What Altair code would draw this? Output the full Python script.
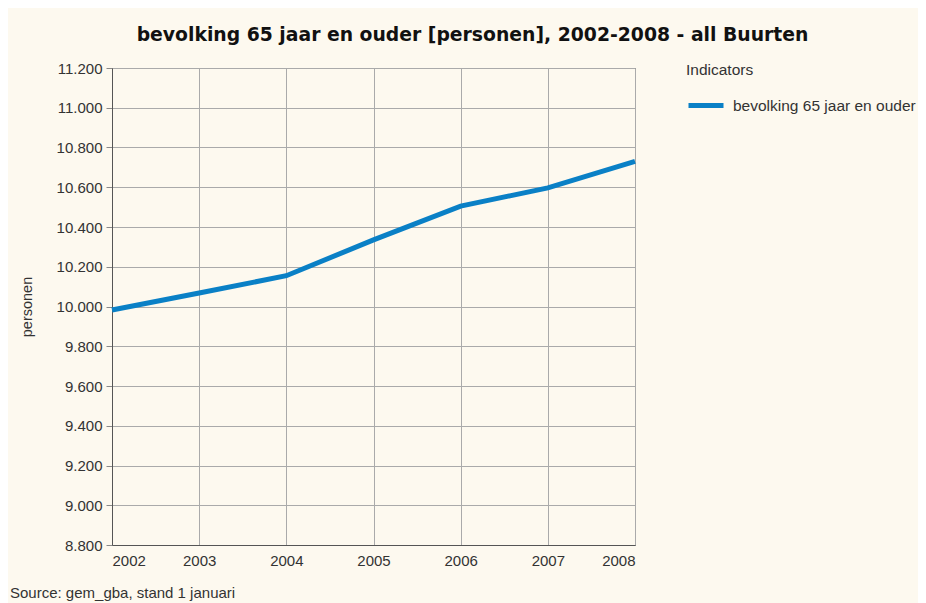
import altair as alt
import pandas as pd

years = [2002, 2003, 2004, 2005, 2006, 2007, 2008]
values = [9982, 10068, 10155, 10335, 10505, 10597, 10730]
series_name = "bevolking 65 jaar en ouder"
y_ticks = [8800, 9000, 9200, 9400, 9600, 9800, 10000, 10200, 10400, 10600, 10800, 11000, 11200]
title_text = "bevolking 65 jaar en ouder [personen], 2002-2008 - all Buurten"
source_note = ["Source: gem_gba, stand 1 januari"]

df = pd.DataFrame({"jaar": years, "personen": values, "Indicators": [series_name] * len(years)})
src = pd.DataFrame({"t": source_note})

FONT = "Liberation Sans"
TXT = "#333333"

line = alt.Chart(df).mark_line(strokeWidth=5, strokeCap="butt").encode(
    x=alt.X("jaar:Q", scale=alt.Scale(domain=[2002, 2008], nice=False),
            axis=alt.Axis(values=years, format="d", title=None, grid=True, ticks=False,
                          labelPadding=8)),
    y=alt.Y("personen:Q", scale=alt.Scale(domain=[8800, 11200], nice=False, zero=False),
            axis=alt.Axis(values=y_ticks, title="personen", grid=True, ticks=True, tickSize=6,
                          labelExpr="replace(format(datum.value, ','), ',', '.')",
                          titlePadding=22, labelPadding=4)),
    color=alt.Color("Indicators:N", scale=alt.Scale(range=["#0a80c6"]),
                    legend=alt.Legend(orient="none", legendX=574, legendY=-5,
                                      symbolType="stroke", symbolSize=1225,
                                      symbolStrokeWidth=5, titlePadding=7,
                                      labelLimit=400, labelOffset=7)),
)

note = alt.Chart(src).mark_text(align="left", baseline="alphabetic", font=FONT,
                                fontSize=15, color=TXT).encode(
    text="t:N", x=alt.value(-102), y=alt.value(530)
)

chart = alt.layer(line, note).properties(
    width=523, height=477,
    autosize=alt.AutoSizeParams(type="none"),
    padding={"left": 104, "top": 60, "right": 283, "bottom": 58},
    background="#fdf9ef",
    title=alt.TitleParams(title_text, font="DejaVu Sans", fontWeight="bold", fontSize=18.8,
                          color="#111111", anchor="middle", dx=99, offset=16),
).configure_view(stroke="#555555", strokeWidth=1).configure_axis(
    labelFont=FONT, labelFontSize=15, labelColor=TXT, titleFont=FONT, titleFontSize=14.5,
    titleFontWeight="normal", titleColor=TXT, gridColor="#aaaaaa", gridWidth=1,
    domainColor="#555555", tickColor="#888888"
).configure_legend(
    titleFont=FONT, titleFontSize=15.5, titleFontWeight="normal", titleColor=TXT,
    labelFont=FONT, labelFontSize=15.5, labelColor=TXT
)

chart.save("out.html", embed_options={"renderer": "svg", "actions": False})
